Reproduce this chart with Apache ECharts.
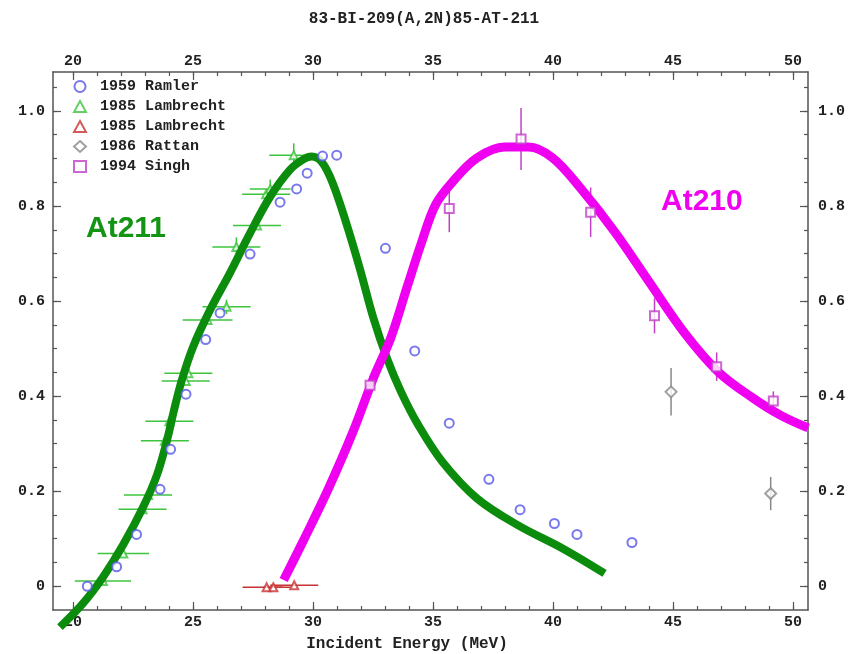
<!DOCTYPE html>
<html>
<head>
<meta charset="utf-8">
<script src="https://cdn.jsdelivr.net/npm/echarts@6/dist/echarts.min.js"></script>
<style>
  html, body { margin: 0; padding: 0; background: #fff; }
  #chart { width: 848px; height: 654px; }
</style>
</head>
<body>
<div id="chart"></div>
<script>
// axis ticks
var xMajor = [20, 25, 30, 35, 40, 45, 50];
var xMinor = [20, 21, 22, 23, 24, 25, 26, 27, 28, 29, 30, 31, 32, 33, 34, 35, 36, 37, 38, 39, 40,
              41, 42, 43, 44, 45, 46, 47, 48, 49, 50];
var yMajor = [0, 0.2, 0.4, 0.6, 0.8, 1.0];
var yMinor = [0, 0.05, 0.1, 0.15, 0.2, 0.25, 0.3, 0.35, 0.4, 0.45, 0.5, 0.55, 0.6, 0.65, 0.7,
              0.75, 0.8, 0.85, 0.9, 0.95, 1.0, 1.05];

// 1959 Ramler
var ramX = [20.6, 21.82, 22.65, 23.63, 24.07, 24.71, 25.53, 26.13, 27.38, 28.63, 29.32, 29.76, 30.4, 30.99,
            33.02, 34.24, 35.68, 37.33, 38.63, 40.06, 41.0, 43.29];
var ramY = [0.0, 0.041, 0.109, 0.204, 0.288, 0.404, 0.519, 0.575, 0.699, 0.808, 0.836, 0.869, 0.905, 0.907,
            0.711, 0.495, 0.343, 0.225, 0.161, 0.132, 0.109, 0.092];

// 1985 Lambrecht (green)
var lamX  = [21.25, 22.1, 22.9, 23.13, 23.83, 24.02, 24.7, 24.81, 25.61, 26.4, 26.81, 27.67, 28.05, 28.22, 29.2];
var lamY  = [0.011, 0.069, 0.162, 0.192, 0.306, 0.347, 0.432, 0.448, 0.56, 0.588, 0.714, 0.759, 0.825, 0.836, 0.907];
var lamDX = [1.17, 1.07, 1.0, 1.0, 1.0, 1.0, 1.0, 1.0, 1.04, 1.0, 1.0, 1.0, 1.0, 0.85, 1.02];
var lamDY = [0, 0, 0, 0, 0, 0, 0, 0, 0, 0.015, 0.02, 0, 0, 0.02, 0.025];

// 1985 Lambrecht (red)
var lamRX  = [28.07, 28.35, 29.22];
var lamRY  = [-0.002, -0.002, 0.002];
var lamRDX = [1.0, 0.4, 1.0];

// 1986 Rattan
var ratX  = [44.92, 49.07];
var ratY  = [0.409, 0.195];
var ratDY = [0.05, 0.035];

// 1994 Singh
var sinX  = [32.38, 35.68, 38.67, 41.57, 44.23, 46.82, 49.18];
var sinY  = [0.423, 0.795, 0.941, 0.787, 0.569, 0.462, 0.39];
var sinDY = [0.02, 0.05, 0.065, 0.052, 0.037, 0.03, 0.02];

// At211 curve
var c211X = [19.46, 20.42, 21.25, 22.08, 22.92, 23.5, 23.92, 24.2, 24.54, 25.0, 25.71, 26.54, 27.38, 28.21,
             29.04, 29.6, 29.95, 30.36, 30.8, 31.37, 31.95, 32.52, 33.09, 33.67, 34.39, 35.39, 36.83, 38.55,
             40.42, 42.15];
var c211Y = [-0.086, -0.036, 0.019, 0.086, 0.166, 0.234, 0.307, 0.368, 0.434, 0.503, 0.581, 0.659, 0.743, 0.819,
             0.876, 0.898, 0.904, 0.893, 0.851, 0.767, 0.669, 0.564, 0.479, 0.409, 0.339, 0.262, 0.185, 0.128,
             0.079, 0.027];

// At210 curve
var c210X = [28.78, 29.65, 30.65, 31.66, 32.52, 33.24, 33.95, 34.53, 35.1, 35.82, 36.83, 37.98, 38.98, 39.99,
             41.14, 42.58, 44.01, 45.45, 46.89, 48.33, 49.47, 50.63];
var c210Y = [0.013, 0.101, 0.206, 0.324, 0.438, 0.522, 0.634, 0.724, 0.802, 0.851, 0.901, 0.924, 0.924, 0.901,
             0.838, 0.745, 0.64, 0.535, 0.451, 0.396, 0.36, 0.333];

var MONO = '"Liberation Mono", "DejaVu Sans Mono", monospace';
var AXC = '#555';

function zip2(a, b) {
  return a.map(function (v, i) { return [v, b[i]]; });
}
function zip4(a, b, c, d) {
  return a.map(function (v, i) { return [v, b[i], c ? c[i] : 0, d ? d[i] : 0]; });
}

function errBars(color) {
  return function (params, api) {
    var x = api.value(0), y = api.value(1), dx = api.value(2), dy = api.value(3);
    var kids = [];
    var st = { stroke: color, lineWidth: 1.5 };
    if (dx > 0) {
      var a = api.coord([x - dx, y]), b = api.coord([x + dx, y]);
      kids.push({ type: 'line', shape: { x1: a[0], y1: a[1], x2: b[0], y2: b[1] }, style: st });
    }
    if (dy > 0) {
      var c = api.coord([x, y - dy]), d = api.coord([x, y + dy]);
      kids.push({ type: 'line', shape: { x1: c[0], y1: c[1], x2: d[0], y2: d[1] }, style: st });
    }
    return { type: 'group', children: kids };
  };
}

function xAx(pos, ticks, len, labels) {
  return {
    type: 'value', position: pos, min: 19.17, max: 50.625,
    axisLine: { show: !!labels, onZero: false, lineStyle: { color: AXC, width: 1.5 } },
    axisTick: { show: true, inside: true, length: len, customValues: ticks, lineStyle: { color: AXC, width: 1.2 } },
    axisLabel: labels ? { show: true, customValues: xMajor, margin: pos === 'top' ? 3 : 5, color: '#222',
                          fontFamily: MONO, fontWeight: 'bold', fontSize: 15 } : { show: false },
    splitLine: { show: false }
  };
}
function yAx(pos, ticks, len, labels) {
  return {
    type: 'value', position: pos, min: -0.05, max: 1.082,
    axisLine: { show: !!labels, onZero: false, lineStyle: { color: AXC, width: 1.5 } },
    axisTick: { show: true, inside: true, length: len, customValues: ticks, lineStyle: { color: AXC, width: 1.2 } },
    axisLabel: labels ? { show: true, customValues: yMajor, margin: pos === 'right' ? 10 : 8, color: '#222',
                          fontFamily: MONO, fontWeight: 'bold', fontSize: 15,
                          formatter: function (v) { return v === 0 ? '0' : v.toFixed(1); } } : { show: false },
    splitLine: { show: false }
  };
}

var xBottom = xAx('bottom', xMajor, 8, true);
xBottom.name = 'Incident Energy (MeV)';
xBottom.nameLocation = 'middle';
xBottom.nameGap = 26;
xBottom.nameTextStyle = { fontFamily: MONO, fontWeight: 'bold', fontSize: 16, color: '#222', padding: [0, 47, 0, 0] };

var chart = echarts.init(document.getElementById('chart'));
var option = {
  animation: false,
  title: {
    text: '83-BI-209(A,2N)85-AT-211', left: 'center', top: 6,
    textStyle: { fontFamily: MONO, fontWeight: 'bold', fontSize: 16, color: '#222' }
  },
  grid: { left: 53, right: 40, top: 72, bottom: 44, outerBoundsMode: 'none', containLabel: false },
  legend: {
    orient: 'vertical', left: 68, top: 74, itemGap: 5, itemWidth: 12, itemHeight: 11,
    textStyle: { fontFamily: MONO, fontWeight: 'bold', fontSize: 15, color: '#222', padding: [0, 0, 0, 9] },
    data: ['1959 Ramler', '1985 Lambrecht', '1985 Lambrecht ', '1986 Rattan', '1994 Singh']
  },
  xAxis: [xBottom, xAx('bottom', xMinor, 4, false), xAx('top', xMajor, 8, true), xAx('top', xMinor, 4, false)],
  yAxis: [yAx('left', yMajor, 8, true), yAx('left', yMinor, 4, false), yAx('right', yMajor, 8, true), yAx('right', yMinor, 4, false)],
  graphic: [
    { type: 'text', left: 86, top: 214, style: { text: 'At211', fill: '#149414', font: 'bold 30px "Liberation Sans", Arial, sans-serif' } },
    { type: 'text', left: 661, top: 187, style: { text: 'At210', fill: '#f000f0', font: 'bold 30px "Liberation Sans", Arial, sans-serif' } }
  ],
  series: [
    { name: 'lamErr', type: 'custom', data: zip4(lamX, lamY, lamDX, lamDY), renderItem: errBars('#3cc43c'), z: 1 },
    { name: 'lamRErr', type: 'custom', data: zip4(lamRX, lamRY, lamRDX, null), renderItem: errBars('#c83232'), z: 1 },
    { name: 'ratErr', type: 'custom', data: zip4(ratX, ratY, null, ratDY), renderItem: errBars('#888888'), z: 1 },
    { name: 'sinErr', type: 'custom', data: zip4(sinX, sinY, null, sinDY), renderItem: errBars('#c040c8'), z: 1 },
    { name: '1985 Lambrecht', type: 'scatter', data: zip2(lamX, lamY), symbol: 'emptyTriangle', symbolSize: 8, z: 1,
      itemStyle: { color: '#3cc43c', borderWidth: 1.5 } },
    { name: '1985 Lambrecht ', type: 'scatter', data: zip2(lamRX, lamRY), symbol: 'emptyTriangle', symbolSize: 8, z: 1,
      itemStyle: { color: '#c83232', borderWidth: 1.5 } },
    { name: 'At211', type: 'line', data: zip2(c211X, c211Y), smooth: 0.35, symbol: 'none',
      clip: false, z: 2, lineStyle: { color: '#0c8c0c', width: 8 } },
    { name: 'At210', type: 'line', data: zip2(c210X, c210Y), smooth: 0.35, symbol: 'none',
      clip: false, z: 2, lineStyle: { color: '#f000f0', width: 9 } },
    { name: '1959 Ramler', type: 'scatter', data: zip2(ramX, ramY), symbol: 'emptyCircle', symbolSize: 9, z: 3,
      itemStyle: { color: '#5858e8', borderWidth: 1.5 } },
    { name: '1986 Rattan', type: 'scatter', data: zip2(ratX, ratY), symbol: 'emptyDiamond', symbolSize: 11, z: 3,
      itemStyle: { color: '#888888', borderWidth: 1.5 } },
    { name: '1994 Singh', type: 'scatter', data: zip2(sinX, sinY), symbol: 'emptyRect', symbolSize: 9, z: 3,
      itemStyle: { color: '#c040c8', borderWidth: 1.5 } }
  ]
};
chart.setOption(option);
</script>
</body>
</html>
